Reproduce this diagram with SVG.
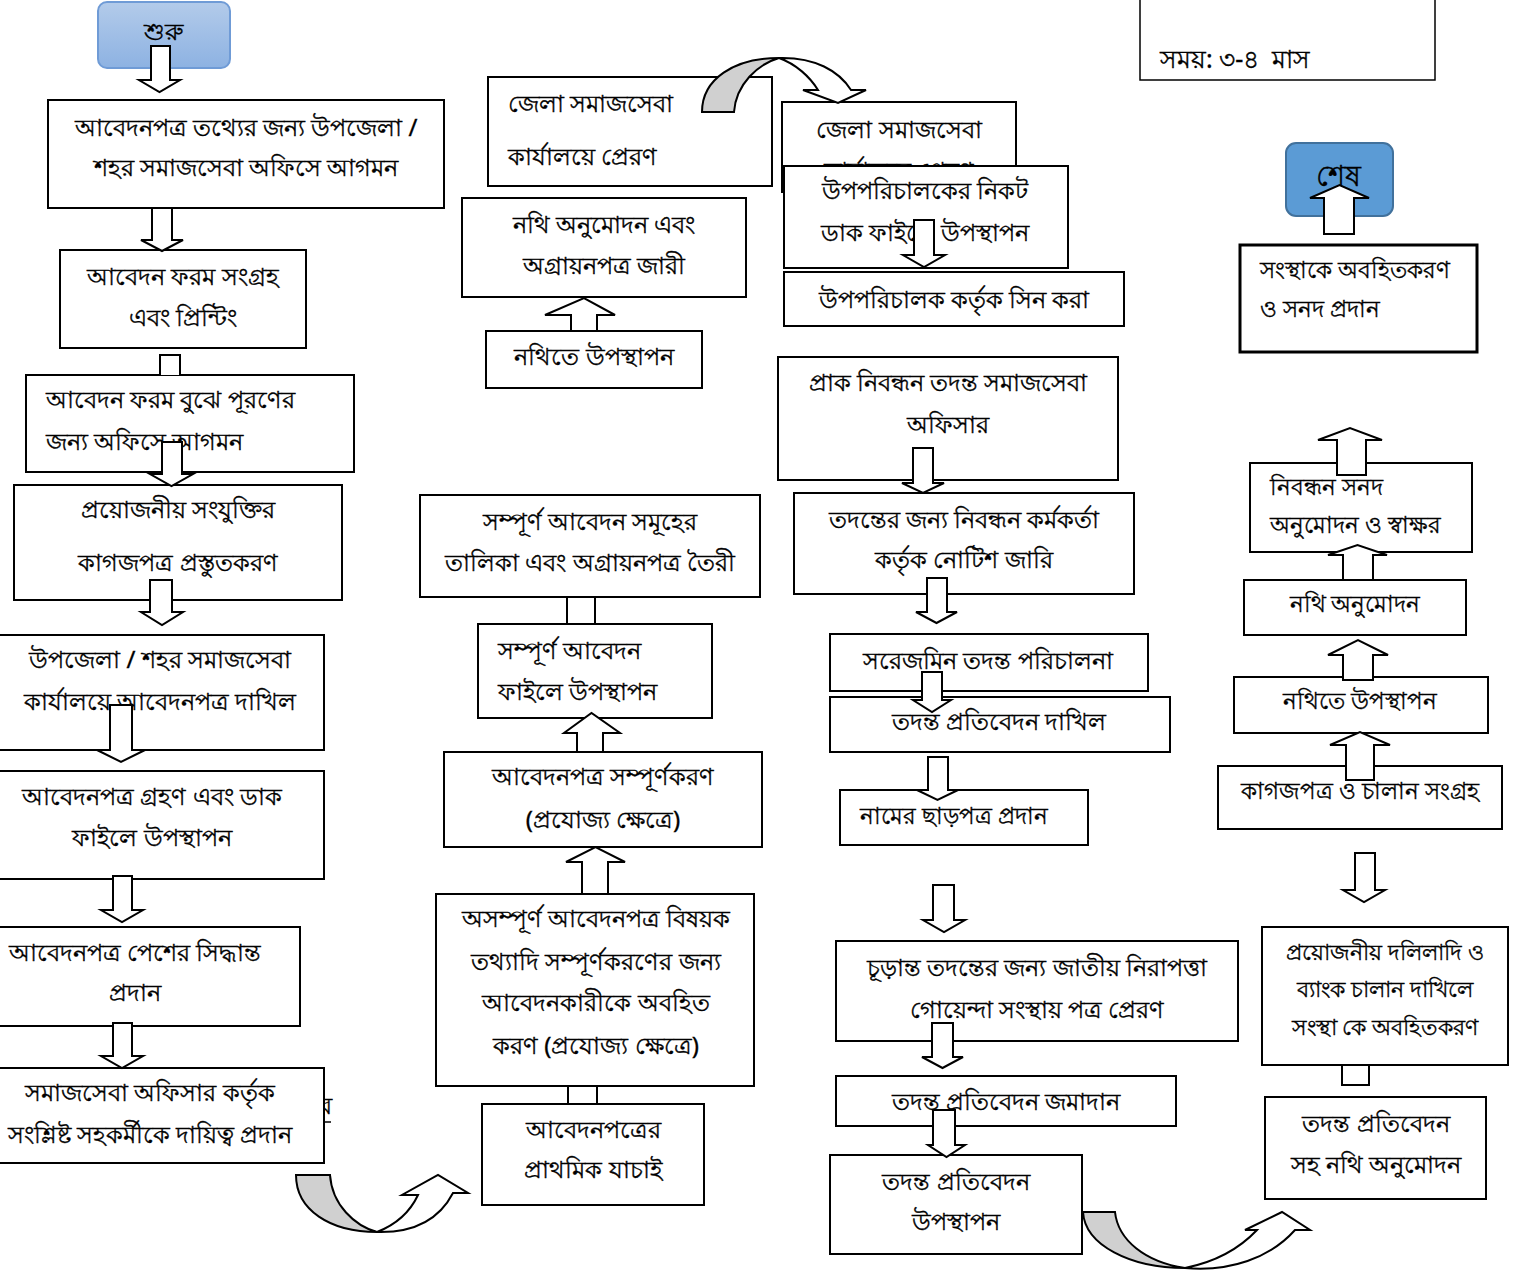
<svg xmlns="http://www.w3.org/2000/svg" width="1525" height="1274" viewBox="0 0 1525 1274">
<defs>
<linearGradient id="gStart" x1="0" y1="0" x2="0" y2="1">
<stop offset="0" stop-color="#b3cbea"/>
<stop offset="1" stop-color="#8db2e2"/>
</linearGradient>
<style>
.box{fill:#fff;stroke:#000;stroke-width:2}
.arr{fill:#fff;stroke:#000;stroke-width:2;stroke-linejoin:miter}
.gray{fill:#d0d0d0;stroke:#000;stroke-width:2}
.t{font-family:"Noto Sans","DejaVu Sans",sans-serif;font-size:24px;fill:#000;stroke:#000;stroke-width:0.35px}
.c{text-anchor:middle}
.s{font-size:22.5px}
.v{font-size:22px}
</style>
</defs>
<rect width="1525" height="1274" fill="#fff"/>
<g id="nodes">
<g id="start"><rect x="98" y="2" width="132" height="66" rx="9" fill="url(#gStart)" stroke="#6f9bd6" stroke-width="2"/><text class="t c" x="163" y="40">শুরু</text></g>
<g id="n1"><rect class="box" x="48" y="100" width="396" height="108"/><text class="t c" x="246" y="136">আবেদনপত্র তথ্যের জন্য উপজেলা /</text><text class="t c" x="246" y="176">শহর সমাজসেবা অফিসে আগমন</text></g>
<g id="n2"><rect class="box" x="60" y="250" width="246" height="98"/><text class="t c" x="183" y="285">আবেদন ফরম সংগ্রহ</text><text class="t c" x="183" y="326">এবং প্রিন্টিং</text></g>
<g id="n3"><rect class="box" x="26" y="375" width="328" height="97"/><text class="t" x="46" y="408">আবেদন ফরম বুঝে পূরণের</text><text class="t" x="46" y="450">জন্য অফিসে আগমন</text></g>
<g id="n4"><rect class="box" x="14" y="485" width="328" height="115"/><text class="t c" x="178" y="518">প্রয়োজনীয় সংযুক্তির</text><text class="t c" x="178" y="571">কাগজপত্র প্রস্তুতকরণ</text></g>
<g id="n5"><rect class="box" x="-1" y="635" width="325" height="115"/><text class="t c" x="160" y="668">উপজেলা / শহর সমাজসেবা</text><text class="t c" x="160" y="710">কার্যালয়ে আবেদনপত্র দাখিল</text></g>
<g id="n6"><rect class="box" x="-1" y="771" width="325" height="108"/><text class="t c" x="152" y="805">আবেদনপত্র গ্রহণ এবং ডাক</text><text class="t c" x="152" y="846">ফাইলে উপস্থাপন</text></g>
<g id="n7"><rect class="box" x="-1" y="927" width="301" height="99"/><text class="t c" x="135" y="961">আবেদনপত্র পেশের সিদ্ধান্ত</text><text class="t c" x="135" y="1001">প্রদান</text></g>
<g id="n8"><text class="t" x="319" y="1114">র</text><line x1="322" y1="1122" x2="331" y2="1122" stroke="#000" stroke-width="1.5"/><rect class="box" x="-1" y="1068" width="325" height="95"/><text class="t c" x="150" y="1101">সমাজসেবা অফিসার কর্তৃক</text><text class="t c" x="150" y="1143">সংশ্লিষ্ট সহকর্মীকে দায়িত্ব প্রদান</text></g>
<g id="m1"><rect class="box" x="488" y="77" width="284" height="109"/><text class="t" x="508" y="112">জেলা সমাজসেবা</text><text class="t" x="508" y="165">কার্যালয়ে প্রেরণ</text></g>
<g id="m2"><rect class="box" x="462" y="198" width="284" height="99"/><text class="t c" x="604" y="233">নথি অনুমোদন এবং</text><text class="t c" x="604" y="274">অগ্রায়নপত্র জারী</text></g>
<g id="m3"><rect class="box" x="486" y="331" width="216" height="57"/><text class="t c" x="594" y="365">নথিতে উপস্থাপন</text></g>
<g id="m4"><rect class="box" x="420" y="495" width="340" height="102"/><text class="t c" x="590" y="530">সম্পূর্ণ আবেদন সমূহের</text><text class="t c" x="590" y="571">তালিকা এবং অগ্রায়নপত্র তৈরী</text></g>
<g id="m5"><rect class="box" x="478" y="624" width="234" height="94"/><text class="t" x="498" y="659">সম্পূর্ণ আবেদন</text><text class="t" x="498" y="700">ফাইলে উপস্থাপন</text></g>
<g id="m6"><rect class="box" x="444" y="752" width="318" height="95"/><text class="t c" x="603" y="785">আবেদনপত্র সম্পূর্ণকরণ</text><text class="t c" x="603" y="828">(প্রযোজ্য ক্ষেত্রে)</text></g>
<g id="m7"><rect class="box" x="436" y="894" width="318" height="192"/><text class="t c" x="596" y="927">অসম্পূর্ণ আবেদনপত্র বিষয়ক</text><text class="t c" x="596" y="970">তথ্যাদি সম্পূর্ণকরণের জন্য</text><text class="t c" x="596" y="1011">আবেদনকারীকে অবহিত</text><text class="t c" x="596" y="1054">করণ (প্রযোজ্য ক্ষেত্রে)</text></g>
<g id="m8"><rect class="box" x="482" y="1104" width="222" height="101"/><text class="t c" x="593" y="1138">আবেদনপত্রের</text><text class="t c" x="593" y="1178">প্রাথমিক যাচাই</text></g>
<g id="r1"><rect class="box" x="782" y="102" width="234" height="90"/><text class="t c" x="899" y="138">জেলা সমাজসেবা</text><text class="t c" x="899" y="179">কার্যালয়ে প্রেরণ</text></g>
<g id="r2"><rect class="box" x="784" y="166" width="284" height="102"/><text class="t c" x="925" y="199">উপপরিচালকের নিকট</text><text class="t c" x="925" y="241">ডাক ফাইলে উপস্থাপন</text></g>
<g id="r3"><rect class="box" x="784" y="272" width="340" height="54"/><text class="t c" x="954" y="308">উপপরিচালক কর্তৃক সিন করা</text></g>
<g id="r4"><rect class="box" x="778" y="357" width="340" height="123"/><text class="t c" x="948" y="391">প্রাক নিবন্ধন তদন্ত সমাজসেবা</text><text class="t c" x="948" y="433">অফিসার</text></g>
<g id="r5"><rect class="box" x="794" y="493" width="340" height="101"/><text class="t c" x="964" y="528">তদন্তের জন্য নিবন্ধন কর্মকর্তা</text><text class="t c" x="964" y="568">কর্তৃক নোটিশ জারি</text></g>
<g id="r6"><rect class="box" x="830" y="634" width="318" height="57"/><text class="t c" x="988" y="669">সরেজমিন তদন্ত পরিচালনা</text></g>
<g id="r7"><rect class="box" x="830" y="697" width="340" height="55"/><text class="t c" x="999" y="730">তদন্ত প্রতিবেদন দাখিল</text></g>
<g id="r8"><rect class="box" x="840" y="790" width="248" height="55"/><text class="t s" x="860" y="824">নামের ছাড়পত্র প্রদান</text></g>
<g id="r9"><rect class="box" x="836" y="941" width="402" height="100"/><text class="t c" x="1037" y="976">চূড়ান্ত তদন্তের জন্য জাতীয় নিরাপত্তা</text><text class="t c" x="1037" y="1018">গোয়েন্দা সংস্থায় পত্র প্রেরণ</text></g>
<g id="r10"><rect class="box" x="836" y="1076" width="340" height="50"/><text class="t c" x="1006" y="1110">তদন্ত প্রতিবেদন জমাদান</text></g>
<g id="r11"><rect class="box" x="830" y="1155" width="252" height="99"/><text class="t c" x="956" y="1190">তদন্ত প্রতিবেদন</text><text class="t c" x="956" y="1230">উপস্থাপন</text></g>
<g id="time"><rect x="1140" y="-2" width="295" height="82" fill="#fff" stroke="#000" stroke-width="1.5"/><text class="t" x="1160" y="68" style="font-size:25px" xml:space="preserve">সময়: ৩-৪  মাস</text></g>
<g id="end"><rect x="1286" y="143" width="107" height="73" rx="10" fill="#5b9bd5" stroke="#41719c" stroke-width="2"/><text class="t c" x="1338" y="186" style="font-size:29px">শেষ</text></g>
<g id="e1"><rect x="1240" y="245" width="237" height="107" fill="#fff" stroke="#000" stroke-width="3"/><text class="t s" x="1260" y="278">সংস্থাকে অবহিতকরণ</text><text class="t s" x="1260" y="317">ও সনদ প্রদান</text></g>
<g id="e2"><rect class="box" x="1250" y="463" width="222" height="89"/><text class="t s" x="1270" y="495">নিবন্ধন সনদ</text><text class="t s" x="1270" y="533">অনুমোদন ও স্বাক্ষর</text></g>
<g id="e3"><rect class="box" x="1244" y="580" width="222" height="55"/><text class="t s c" x="1355" y="612">নথি অনুমোদন</text></g>
<g id="e4"><rect class="box" x="1234" y="677" width="254" height="56"/><text class="t s c" x="1360" y="709">নথিতে উপস্থাপন</text></g>
<g id="e5"><rect class="box" x="1218" y="766" width="284" height="63"/><text class="t s c" x="1360" y="799">কাগজপত্র ও চালান সংগ্রহ</text></g>
<g id="e6"><rect class="box" x="1262" y="927" width="246" height="138"/><text class="t v c" x="1385" y="960">প্রয়োজনীয় দলিলাদি ও</text><text class="t v c" x="1385" y="997">ব্যাংক চালান দাখিলে</text><text class="t v c" x="1385" y="1035">সংস্থা কে অবহিতকরণ</text></g>
<g id="e7"><rect class="box" x="1265" y="1097" width="221" height="102"/><text class="t c" x="1376" y="1132">তদন্ত প্রতিবেদন</text><text class="t c" x="1376" y="1173">সহ নথি অনুমোদন</text></g>
</g>
<g id="connectors">
<polygon class="arr" points="151,46 170,46 170,80 180,80 159.5,92 139,80 151,80"/>
<polygon class="arr" points="152,208 172,208 172,240 183,240 162,251 141,240 152,240"/>
<path class="arr" d="M160,375 V355 H180 V375"/>
<polygon class="arr" points="162,442 182,442 182,474 193,474 171.5,486 150,474 162,474"/>
<polygon class="arr" points="150,580 172,580 172,612 183,612 162,625 141,612 150,612"/>
<polygon class="arr" points="110,705 132,705 132,750 145,750 121,762 97,750 110,750"/>
<polygon class="arr" points="113,876 132,876 132,910 143,910 122,922 101,910 113,910"/>
<polygon class="arr" points="113,1023 132,1023 132,1056 143,1056 122,1068 101,1056 113,1056"/>
<path class="gray" d="M296,1175 L330,1175 C332,1205 355,1226 377,1232 C330,1232 296,1210 296,1175 Z"/>
<path class="arr" d="M377,1232 C395,1225 410,1212 418,1195 L402,1195 L438,1175 L468,1193 L453,1193 C440,1218 415,1233 377,1232 Z"/>
<rect class="arr" x="568" y="1086" width="29" height="18"/>
<polygon class="arr" points="582,894 608,894 608,862 625,862 595.5,847 566,862 582,862"/>
<polygon class="arr" points="577,752 603,752 603,733 620,733 591.5,713 564,733 577,733"/>
<rect class="arr" x="567" y="597" width="28" height="27"/>
<polygon class="arr" points="571,331 597,331 597,315 615,315 584,298 545,315 571,315"/>
<path class="gray" d="M702,112 L734,112 C736,84 758,64 779,58 C734,58 702,79 702,112 Z"/>
<path class="arr" d="M779,58 C796,64 810,77 818,90 L803,90 L838,103 L866,90 L851,90 C839,71 815,57 779,58 Z"/>
<polygon class="arr" points="914,220 934,220 934,255 945,255 924,267 903,255 914,255"/>
<polygon class="arr" points="913,448 933,448 933,483 944,483 923,493 902,483 913,483"/>
<polygon class="arr" points="927,578 947,578 947,612 957,612 936.5,623 916,612 927,612"/>
<polygon class="arr" points="922,672 942,672 942,700 951,700 932,712 913,700 922,700"/>
<polygon class="arr" points="928,757 948,757 948,790 958,790 937.5,800 917,790 928,790"/>
<polygon class="arr" points="933,885 954,885 954,920 965,920 944,932 923,920 933,920"/>
<polygon class="arr" points="932,1023 953,1023 953,1057 963,1057 942.5,1068 922,1057 932,1057"/>
<polygon class="arr" points="933,1110 955,1110 955,1145 965,1145 946.5,1157 928,1145 933,1145"/>
<path class="gray" d="M1083,1212 L1115,1212 C1118,1240 1145,1262 1185,1268 C1130,1268 1085,1245 1083,1212 Z"/>
<path class="arr" d="M1185,1268 C1215,1262 1240,1248 1257,1230 L1245,1230 L1282,1212 L1310,1230 L1295,1230 C1270,1258 1230,1272 1185,1268 Z"/>
<rect class="arr" x="1342" y="1065" width="27" height="20"/>
<polygon class="arr" points="1355,853 1375,853 1375,890 1385,890 1364,902 1343,890 1355,890"/>
<polygon class="arr" points="1346,780 1374,780 1374,745 1390,745 1360,732 1330,745 1346,745"/>
<polygon class="arr" points="1343,680 1373,680 1373,655 1388,655 1358,640 1328,655 1343,655"/>
<polygon class="arr" points="1343,580 1373,580 1373,555 1387,555 1357.5,545 1328,555 1343,555"/>
<polygon class="arr" points="1337,475 1366,475 1366,440 1382,440 1350,428 1318,440 1337,440"/>
<polygon class="arr" points="1324,234 1354,234 1354,198 1369,198 1339.5,185 1310,198 1324,198"/>
</g>
</svg>
